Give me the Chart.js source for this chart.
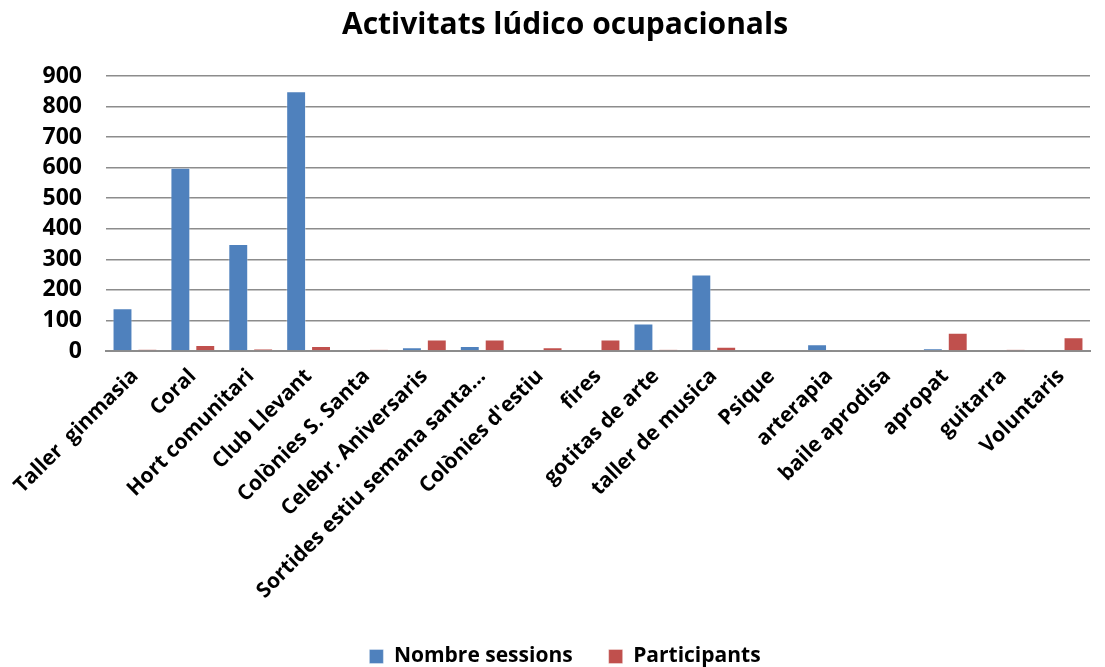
<!DOCTYPE html>
<html>
<head>
<meta charset="utf-8">
<script src="https://cdn.jsdelivr.net/npm/chart.js@4/dist/chart.umd.min.js"></script>
<style>
  html, body { margin: 0; padding: 0; background: #fff; }
  #wrap { width: 1105px; height: 667px; }
</style>
</head>
<body>
<div id="wrap"><canvas id="myChart" width="1105" height="667"></canvas></div>
<script>
var categories = ["Taller  ginmasia", "Coral", "Hort comunitari", "Club Llevant", "Colònies S. Santa",
  "Celebr. Aniversaris", "Sortides estiu semana santa...", "Colònies d'estiu", "fires", "gotitas de arte",
  "taller de musica", "Psique", "arterapia", "baile aprodisa", "apropat", "guitarra", "Voluntaris"];
var sessions = [140, 600, 350, 850, 0, 12, 16, 0, 0, 90, 250, 0, 22, 0, 9, 0, 0];
var participants = [6, 20, 8, 16, 5, 38, 38, 12, 38, 5, 14, 0, 3, 0, 60, 5, 45];
var yTicks = [0, 100, 200, 300, 400, 500, 600, 700, 800, 900];

Chart.defaults.font.family = "'Open Sans'";
Chart.defaults.font.weight = "bold";
Chart.defaults.color = "#000";

var ctx = document.getElementById('myChart').getContext('2d');
var myChart = new Chart(ctx, {
  type: 'bar',
  data: {
    labels: categories,
    datasets: [{
      label: "Nombre sessions",
      data: sessions,
      backgroundColor: "#4F81BD",
      borderColor: "rgba(255,255,255,0.35)",
      borderWidth: 1,
      categoryPercentage: 0.86,
      barPercentage: 0.8
    }, {
      label: "Participants",
      data: participants,
      backgroundColor: "#C0504D",
      borderColor: "rgba(255,255,255,0.35)",
      borderWidth: 1,
      categoryPercentage: 0.86,
      barPercentage: 0.8
    }]
  },
  options: {
    responsive: false,
    animation: false,
    // left padding shifts title/legend centre to the right like the original
    layout: { padding: { left: 40, right: 15, top: 0, bottom: -10 } },
    scales: {
      y: {
        min: 0,
        max: 900,
        afterBuildTicks: function (scale) {
          scale.ticks = yTicks.map(function (v) { return { value: v }; });
        },
        afterFit: function (scale) { scale.width = 66; },
        grid: { color: "#8c8c8c", lineWidth: 1.5, drawTicks: false },
        border: { display: false },
        ticks: { padding: 24, autoSkip: false, font: { size: 23, weight: "bold" } }
      },
      x: {
        afterFit: function (scale) { scale.height = 259; },
        grid: { display: false, drawTicks: false },
        border: { display: true, color: "#8c8c8c", width: 2 },
        ticks: { minRotation: 45, maxRotation: 45, padding: 13, autoSkip: false, font: { size: 21, weight: "bold" } }
      }
    },
    plugins: {
      //Chart title
      title: {
        display: true,
        text: 'Activitats lúdico ocupacionals',
        color: "#000",
        font: { size: 30, weight: "bold" },
        padding: { top: 7, bottom: 33 }
      },
      legend: {
        position: 'bottom',
        labels: {
          boxWidth: 14,
          boxHeight: 14,
          padding: 36,
          font: { size: 21, weight: "bold" }
        }
      },
      tooltip: { enabled: false }
    }
  }
});
</script>
</body>
</html>
